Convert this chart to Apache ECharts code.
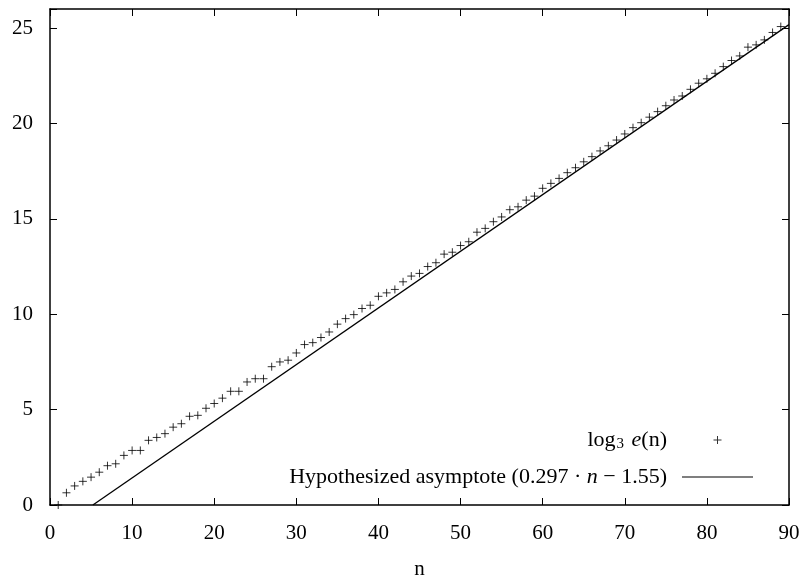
<!DOCTYPE html>
<html>
<head>
<meta charset="utf-8">
<script src="https://cdn.jsdelivr.net/npm/echarts@6/dist/echarts.min.js"></script>
<style>
  html, body { margin: 0; padding: 0; background: #fff; }
  #chart { width: 808px; height: 582px; }
</style>
</head>
<body>
<div id="chart"></div>
<script>
// n values and log3 e(n)
var nValues = [1,2,3,4,5,6,7,8,9,10,11,12,13,14,15,16,17,18,19,20,21,22,23,24,25,26,27,28,29,30,
  31,32,33,34,35,36,37,38,39,40,41,42,43,44,45,46,47,48,49,50,51,52,53,54,55,56,57,58,59,60,
  61,62,63,64,65,66,67,68,69,70,71,72,73,74,75,76,77,78,79,80,81,82,83,84,85,86,87,88,89];
var logValues = [0,0.64,1.0,1.24,1.46,1.72,2.06,2.16,2.6,2.86,2.86,3.39,3.54,3.74,4.08,4.26,4.65,4.7,5.07,5.32,
  5.6,5.96,5.96,6.45,6.62,6.62,7.25,7.5,7.59,7.97,8.41,8.51,8.78,9.07,9.48,9.77,9.98,10.3,10.47,10.94,
  11.12,11.3,11.7,12.0,12.14,12.5,12.7,13.15,13.25,13.6,13.8,14.3,14.5,14.85,15.1,15.48,15.63,15.98,16.19,16.6,
  16.86,17.12,17.42,17.68,17.99,18.26,18.56,18.83,19.13,19.45,19.78,20.04,20.33,20.62,20.93,21.23,21.44,21.79,22.11,22.34,
  22.63,22.98,23.3,23.54,24.0,24.12,24.38,24.77,25.08];
// asymptote 0.297*n - 1.55, end points
var asymN = [5.22, 90];
var asymY = [0, 25.18];

var xTicks = [0,10,20,30,40,50,60,70,80,90];
var yTicks = [0,5,10,15,20,25];

var font = '"Liberation Serif", "DejaVu Serif", serif';

var points = [];
for (var i = 0; i < nValues.length; i++) points.push([nValues[i], logValues[i]]);
var asym = [];
for (var j = 0; j < asymN.length; j++) asym.push([asymN[j], asymY[j]]);

var axisCommon = {
    type: 'value',
    axisLine: { show: true, onZero: false, lineStyle: { color: '#000', width: 1.5 } },
    axisTick: { show: true, inside: true, length: 7, lineStyle: { color: '#000', width: 1 } },
    splitLine: { show: false }
};

var myChart = echarts.init(document.getElementById('chart'));
var option = {
    animation: false,
    grid: { left: 50, right: 19, top: 9, bottom: 77, outerBoundsMode: 'none', containLabel: false },
    legend: {
        orient: 'vertical',
        right: 50,
        top: 424,
        align: 'right',
        itemWidth: 71,
        itemHeight: 8,
        itemGap: 14,
        data: [
            { name: 'log3 e(n)', icon: 'path://M0,3.5H8V4.5H0Z M3.5,0H4.5V8H3.5Z',
              itemStyle: { color: '#000', borderWidth: 0 } },
            { name: 'asym', icon: 'path://M0,0H71V1.2H0Z',
              itemStyle: { color: '#000', borderWidth: 0 } }
        ],
        formatter: function (name) {
            if (name === 'asym') return 'Hypothesized asymptote (0.297 · {i|n} − 1.55)';
            return 'log{s|3} {i|e}(n)';
        },
        textStyle: {
            fontFamily: font, fontSize: 22, color: '#000', padding: [0, 10, 0, 0],
            rich: {
                i: { fontFamily: font, fontSize: 22, fontStyle: 'italic', color: '#000' },
                s: { fontFamily: font, fontSize: 15, color: '#000', verticalAlign: 'bottom', padding: [9, 2, 0, 1] }
            }
        }
    },
    xAxis: [
        Object.assign({}, axisCommon, {
            min: 0, max: 90, interval: 10, position: 'bottom',
            name: 'n', nameLocation: 'middle', nameGap: 54,
            nameTextStyle: { fontFamily: font, fontSize: 21, color: '#000' },
            axisLabel: { fontFamily: font, fontSize: 21, color: '#000', margin: 18,
                formatter: function (v) { return xTicks.indexOf(v) >= 0 ? String(v) : ''; } }
        }),
        Object.assign({}, axisCommon, {
            min: 0, max: 90, interval: 10, position: 'top', axisLabel: { show: false }
        })
    ],
    yAxis: [
        Object.assign({}, axisCommon, {
            min: 0, max: 26, interval: 5, position: 'left',
            axisLabel: { fontFamily: font, fontSize: 21, color: '#000', margin: 17,
                formatter: function (v) { return yTicks.indexOf(v) >= 0 ? String(v) : ''; } }
        }),
        Object.assign({}, axisCommon, {
            min: 0, max: 26, interval: 5, position: 'right', axisLabel: { show: false }
        })
    ],
    series: [
        {
            name: 'log3 e(n)',
            type: 'scatter',
            data: points,
            clip: false,
            symbol: 'path://M0,5L10,5M5,0L5,10',
            symbolSize: 8,
            itemStyle: { color: 'rgba(0,0,0,0)', borderColor: '#000', borderWidth: 1 }
        },
        {
            name: 'asym',
            type: 'line',
            data: asym,
            symbol: 'none',
            lineStyle: { color: '#000', width: 1.3 },
            itemStyle: { color: '#000' }
        }
    ]
};
myChart.setOption(option);
</script>
</body>
</html>
